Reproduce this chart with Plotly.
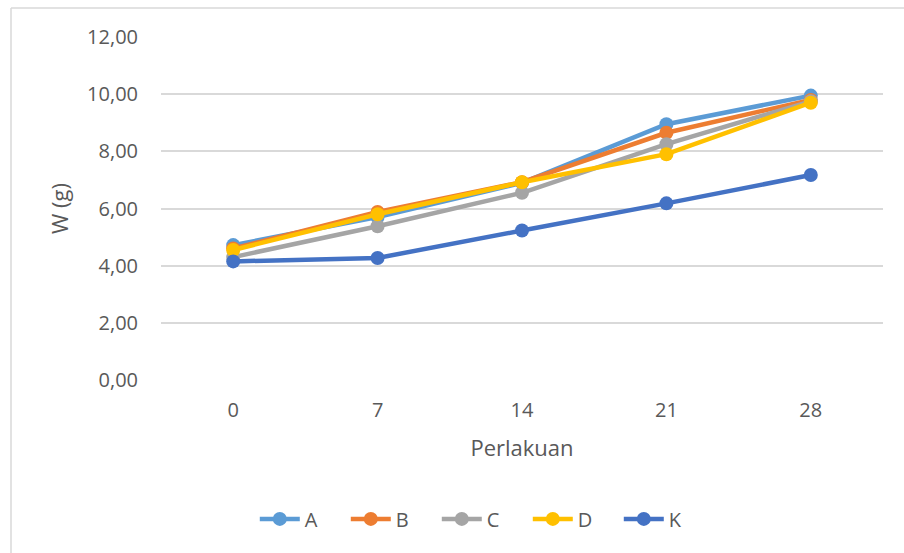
import plotly.graph_objects as go

# Observation days (categories on the x axis)
perlakuan = ["0", "7", "14", "21", "28"]

# Mean weight W (g) per treatment
w_a = [4.72, 5.70, 6.90, 8.95, 9.95]
w_b = [4.60, 5.88, 6.92, 8.65, 9.80]
w_c = [4.30, 5.38, 6.55, 8.25, 9.75]
w_d = [4.55, 5.80, 6.92, 7.90, 9.70]
w_k = [4.15, 4.27, 5.23, 6.18, 7.17]

series_names = ["A", "B", "C", "D", "K"]
series_values = [w_a, w_b, w_c, w_d, w_k]
series_colors = ["#5B9BD5", "#ED7D31", "#A5A5A5", "#FFC000", "#4472C4"]

y_ticks = [0, 2, 4, 6, 8, 10, 12]

text_color = "#595959"
grid_color = "#D9D9D9"
font_family = "Open Sans, Liberation Sans, sans-serif"

fig = go.Figure()
for name, vals, col in zip(series_names, series_values, series_colors):
    fig.add_trace(go.Scatter(
        x=perlakuan, y=vals, name=name, mode="lines+markers",
        line=dict(color=col, width=4.5),
        marker=dict(color=col, size=14),
    ))

fig.update_layout(
    width=904, height=553,
    margin=dict(l=161, r=21, t=37, b=173),
    paper_bgcolor="white", plot_bgcolor="white",
    separators=",.",
    font=dict(family=font_family, color=text_color, size=20),
    showlegend=True,
    legend=dict(
        orientation="h", x=0.445, xanchor="center", y=-0.405, yanchor="middle",
        font=dict(size=20, color=text_color), itemwidth=40,
        entrywidth=36, entrywidthmode="pixels",
        traceorder="normal",
    ),
    xaxis=dict(
        type="category", range=[-0.5, 4.5],
        showgrid=False, zeroline=False, showline=False,
        ticks="", tickfont=dict(size=20, color=text_color), ticklabelstandoff=16,
        title=dict(text="Perlakuan", font=dict(size=22, color=text_color), standoff=18),
    ),
    yaxis=dict(
        range=[0, 12], tickvals=y_ticks, tickformat=".2f",
        showgrid=True, gridcolor=grid_color, gridwidth=1.5,
        zeroline=False, showline=False, ticks="",
        tickfont=dict(size=20, color=text_color), ticklabelstandoff=22,
        title=dict(text="W (g)", font=dict(size=22, color=text_color), standoff=12),
    ),
    shapes=[
        # chart area frame (left and top edges)
        dict(type="line", xref="paper", yref="paper",
             x0=(11 - 161) / 722, x1=(11 - 161) / 722, y0=(380 - 8) / 343, y1=-1,
             line=dict(color=grid_color, width=1.5)),
        dict(type="line", xref="paper", yref="paper",
             x0=(11 - 161) / 722, x1=1.2, y0=(380 - 8) / 343, y1=(380 - 8) / 343,
             line=dict(color=grid_color, width=1.5)),
    ],
)

fig.write_html("out.html")
